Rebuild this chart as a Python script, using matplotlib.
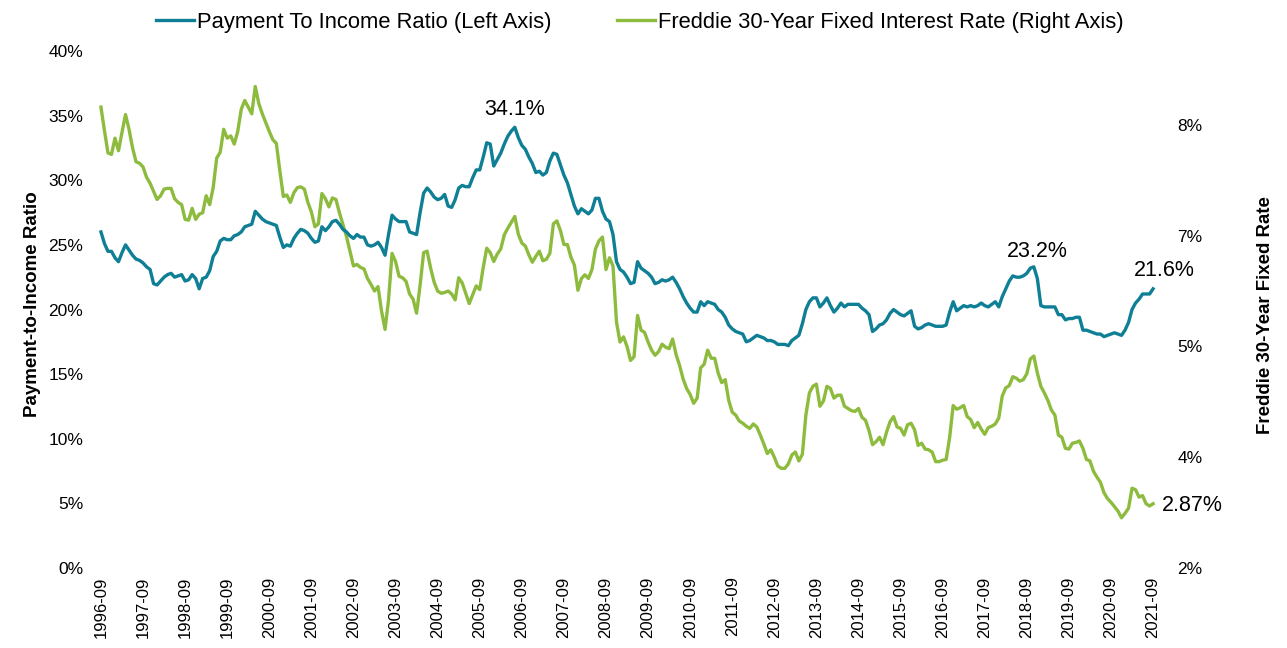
import numpy as np
import matplotlib
matplotlib.use("Agg")
import matplotlib.pyplot as plt

plt.rcParams["font.family"] = ["Liberation Sans", "DejaVu Sans"]

# =========================
# Data (monthly, 1996-09 .. 2021-09)
# =========================
x_labels = ["1996-09", "1997-09", "1998-09", "1999-09", "2000-09", "2001-09",
            "2002-09", "2003-09", "2004-09", "2005-09", "2006-09", "2007-09",
            "2008-09", "2009-09", "2010-09", "2011-09", "2012-09", "2013-09",
            "2014-09", "2015-09", "2016-09", "2017-09", "2018-09", "2019-09",
            "2020-09", "2021-09"]

# payment to income ratio [%] (left axis)
pti = [
    26.0, 25.1, 24.5, 24.5,
    24.0, 23.7, 24.4, 25.0, 24.6, 24.2, 23.9, 23.8, 23.6, 23.3, 23.1, 22.0,
    21.9, 22.2, 22.5, 22.7, 22.8, 22.5, 22.6, 22.7, 22.2, 22.3, 22.7, 22.4,
    21.6, 22.4, 22.5, 23.0, 24.1, 24.5, 25.3, 25.5, 25.4, 25.4, 25.7, 25.8,
    26.0, 26.4, 26.5, 26.6, 27.6, 27.3, 27.0, 26.8, 26.7, 26.6, 26.5, 25.6,
    24.8, 25.0, 24.9, 25.5, 25.9, 26.2, 26.1, 25.9, 25.5, 25.2, 25.3, 26.4,
    26.1, 26.4, 26.8, 26.9, 26.6, 26.2, 26.0, 25.7, 25.5, 25.8, 25.6, 25.6,
    25.0, 24.9, 25.0, 25.2, 24.8, 24.2, 25.8, 27.3, 27.0, 26.8, 26.8, 26.8,
    26.0, 25.9, 25.8, 27.5, 29.0, 29.4, 29.1, 28.7, 28.5, 28.6, 28.9, 28.0,
    27.9, 28.5, 29.4, 29.6, 29.5, 29.5, 30.2, 30.8, 30.8, 31.8, 32.9, 32.8,
    31.1, 31.6, 32.1, 32.8, 33.4, 33.8, 34.1, 33.3, 32.7, 32.4, 31.8, 31.3,
    30.6, 30.7, 30.4, 30.6, 31.5, 32.1, 32.0, 31.2, 30.4, 29.8, 28.9, 28.0,
    27.4, 27.8, 27.6, 27.4, 27.7, 28.6, 28.6, 27.6, 27.0, 26.8, 25.8, 23.7,
    23.1, 22.9, 22.5, 22.0, 22.1, 23.7, 23.2, 23.0, 22.8, 22.5, 22.0, 22.1,
    22.3, 22.2, 22.3, 22.5, 22.1, 21.6, 21.0, 20.5, 20.1, 19.8, 19.8, 20.6,
    20.3, 20.6, 20.5, 20.4, 20.0, 19.8, 19.4, 18.8, 18.5, 18.3, 18.2, 18.1,
    17.5, 17.6, 17.8, 18.0, 17.9, 17.8, 17.6, 17.6, 17.5, 17.3, 17.3, 17.3,
    17.2, 17.6, 17.8, 18.0, 18.9, 20.0, 20.6, 20.9, 20.9, 20.2, 20.5, 20.9,
    20.3, 19.8, 20.1, 20.5, 20.2, 20.4, 20.4, 20.4, 20.4, 20.1, 19.9, 19.6,
    18.3, 18.5, 18.8, 18.9, 19.2, 19.7, 20.0, 19.8, 19.6, 19.5, 19.7, 19.9,
    18.7, 18.5, 18.6, 18.8, 18.9, 18.8, 18.7, 18.7, 18.7, 18.8, 19.8, 20.6,
    19.9, 20.1, 20.3, 20.2, 20.3, 20.2, 20.3, 20.5, 20.3, 20.2, 20.4, 20.6,
    20.2, 21.0, 21.6, 22.2, 22.6, 22.5, 22.5, 22.6, 22.8, 23.2, 23.3, 22.4,
    20.3, 20.2, 20.2, 20.2, 20.2, 19.6, 19.6, 19.2, 19.3, 19.3, 19.4, 19.4,
    18.4, 18.4, 18.3, 18.2, 18.1, 18.1, 17.9, 18.0, 18.1, 18.2, 18.1, 18.0,
    18.4, 19.0, 20.0, 20.5, 20.8, 21.2, 21.2, 21.2, 21.6,
]

# Freddie 30-year fixed rate [%] (right axis)
rate = [
    8.24, 7.92, 7.62, 7.60,
    7.82, 7.65, 7.90, 8.14, 7.94, 7.69, 7.50, 7.48, 7.43, 7.29, 7.21, 7.10,
    6.99, 7.04, 7.13, 7.14, 7.14, 7.00, 6.95, 6.92, 6.72, 6.71, 6.87, 6.72,
    6.79, 6.81, 7.04, 6.92, 7.15, 7.55, 7.63, 7.94, 7.82, 7.85, 7.74, 7.91,
    8.21, 8.33, 8.24, 8.15, 8.52, 8.29, 8.15, 8.03, 7.91, 7.80, 7.75, 7.38,
    7.03, 7.05, 6.95, 7.08, 7.15, 7.16, 7.13, 6.95, 6.82, 6.62, 6.66, 7.07,
    7.00, 6.89, 7.01, 6.99, 6.81, 6.65, 6.49, 6.29, 6.09, 6.11, 6.07, 6.05,
    5.92, 5.84, 5.75, 5.81, 5.48, 5.23, 5.63, 6.26, 6.15, 5.95, 5.93, 5.88,
    5.71, 5.64, 5.45, 5.83, 6.27, 6.29, 6.06, 5.87, 5.75, 5.72, 5.73, 5.75,
    5.71, 5.63, 5.93, 5.86, 5.72, 5.58, 5.70, 5.82, 5.77, 6.07, 6.33, 6.27,
    6.15, 6.25, 6.32, 6.51, 6.60, 6.68, 6.76, 6.52, 6.40, 6.36, 6.24, 6.14,
    6.22, 6.29, 6.16, 6.18, 6.26, 6.66, 6.70, 6.57, 6.38, 6.38, 6.21, 6.10,
    5.76, 5.92, 5.97, 5.92, 6.04, 6.32, 6.43, 6.48, 6.04, 6.20, 6.09, 5.33,
    5.06, 5.13, 5.00, 4.81, 4.86, 5.42, 5.22, 5.19, 5.06, 4.95, 4.88, 4.93,
    5.03, 4.99, 4.97, 5.10, 4.89, 4.74, 4.56, 4.43, 4.35, 4.23, 4.30, 4.71,
    4.76, 4.95, 4.84, 4.84, 4.64, 4.51, 4.55, 4.27, 4.11, 4.07, 3.99, 3.96,
    3.92, 3.89, 3.95, 3.91, 3.80, 3.68, 3.55, 3.60, 3.50, 3.38, 3.35, 3.35,
    3.41, 3.53, 3.57, 3.45, 3.54, 4.07, 4.37, 4.46, 4.49, 4.19, 4.26, 4.46,
    4.43, 4.30, 4.34, 4.34, 4.19, 4.16, 4.13, 4.12, 4.16, 4.04, 4.00, 3.86,
    3.67, 3.71, 3.77, 3.67, 3.84, 3.98, 4.05, 3.91, 3.89, 3.80, 3.94, 3.96,
    3.87, 3.66, 3.69, 3.61, 3.60, 3.57, 3.44, 3.44, 3.46, 3.47, 3.77, 4.20,
    4.15, 4.17, 4.20, 4.05, 4.01, 3.90, 3.97, 3.88, 3.81, 3.90, 3.92, 3.95,
    4.03, 4.33, 4.44, 4.47, 4.59, 4.57, 4.53, 4.55, 4.63, 4.83, 4.87, 4.64,
    4.46, 4.37, 4.27, 4.14, 4.07, 3.80, 3.77, 3.62, 3.61, 3.69, 3.70, 3.72,
    3.62, 3.47, 3.45, 3.31, 3.23, 3.16, 3.02, 2.94, 2.89, 2.83, 2.77, 2.68,
    2.74, 2.81, 3.08, 3.06, 2.96, 2.98, 2.87, 2.84, 2.87,
]

left_ticks = [0, 5, 10, 15, 20, 25, 30, 35, 40]
left_labels = ["0%", "5%", "10%", "15%", "20%", "25%", "30%", "35%", "40%"]
right_ticks = [2, 3.5, 5, 6.5, 8]
right_labels = ["2%", "4%", "5%", "7%", "8%"]

BLUE = "#0E7F95"
GREEN = "#8DBB3E"

# =========================
# Plot
# =========================
fig = plt.figure(figsize=(12.87, 6.48), dpi=100)
ax = fig.add_axes([95 / 1287, 80 / 648, 1070 / 1287, 517 / 648])
ax2 = ax.twinx()

k = np.arange(len(pti))
l1, = ax.plot(k, pti, color=BLUE, lw=2.4, label="Payment To Income Ratio (Left Axis)", zorder=3)
l2, = ax2.plot(k, rate, color=GREEN, lw=2.4, label="Freddie 30-Year Fixed Interest Rate (Right Axis)")
ax.set_zorder(ax2.get_zorder() + 1)
ax.patch.set_visible(False)

ax.set_xlim(-1.7, 303.4)
ax.set_ylim(0, 40)
ax2.set_ylim(2, 9)

ax.set_xticks(np.arange(0, len(pti), 12))
ax.set_xticklabels(x_labels, rotation=90, fontsize=12)
ax.set_yticks(left_ticks)
ax.set_yticklabels(left_labels, fontsize=12.5)
ax2.set_yticks(right_ticks)
ax2.set_yticklabels(right_labels, fontsize=12.5)

for a in (ax, ax2):
    for s in a.spines.values():
        s.set_visible(False)
ax.tick_params(axis="x", length=0, pad=6)
ax.tick_params(axis="y", length=0, pad=8.5)
ax2.tick_params(axis="y", length=0, pad=9)

ax.set_ylabel("Payment-to-Income Ratio", fontsize=13.5, fontweight="bold")
ax.yaxis.set_label_coords(-0.050, 0.51)
ax2.set_ylabel("Freddie 30-Year Fixed Rate", fontsize=13.4, fontweight="bold")
ax2.yaxis.set_label_coords(1.086, 0.49)

# annotations
i_peak = int(np.argmax(pti))
ax.annotate("34.1%", (i_peak, pti[i_peak]), xytext=(0, 18), textcoords="offset pixels",
            ha="center", va="center", fontsize=15.5)
i_pk2 = 250 + int(np.argmax(pti[250:]))
ax.annotate("23.2%", (i_pk2, pti[i_pk2]), xytext=(3, 15), textcoords="offset pixels",
            ha="center", va="center", fontsize=15.5)
ax.annotate("21.6%", (k[-1], pti[-1]), xytext=(11, 18), textcoords="offset pixels",
            ha="center", va="center", fontsize=15.5)
ax2.annotate("2.87%", (k[-1], rate[-1]), xytext=(9, -2), textcoords="offset pixels",
             ha="left", va="center", fontsize=15.5)

fig.legend(handles=[l1, l2], loc="center", bbox_to_anchor=(0.497, 0.966), ncol=2,
           frameon=False, fontsize=15.8, handlelength=1.75, handletextpad=0.1,
           columnspacing=3.0)

fig.savefig("out.png", dpi=100)
